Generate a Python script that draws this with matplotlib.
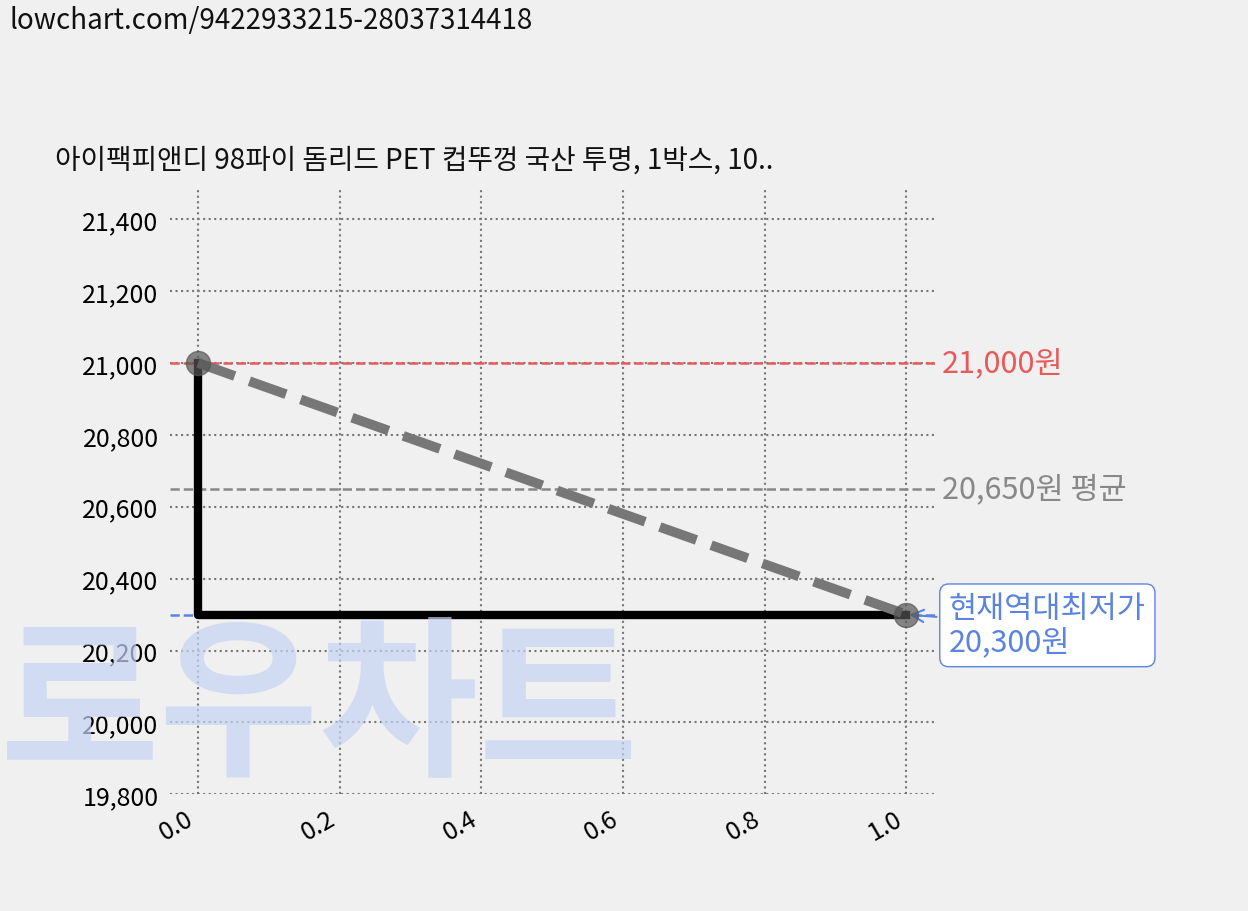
import matplotlib
matplotlib.use("Agg")
import matplotlib.pyplot as plt

plt.rcParams['font.family'] = ['Noto Sans CJK KR', 'DejaVu Sans']

x = [0.0, 1.0]
prices = [21000, 20300]
max_price = 21000
avg_price = 20650
min_price = 20300
title = "아이팩피앤디 98파이 돔리드 PET 컵뚜껑 국산 투명, 1박스, 10.."
url = "lowchart.com/9422933215-28037314418"

fig = plt.figure(figsize=(12.48, 9.12), dpi=100, facecolor='#f0f0f0')
fig.text(0.0, 0.165, "로우차트", fontsize=125, color='#c5d3f2', alpha=0.7,
         fontweight='black', zorder=0)
ax = fig.add_axes([0.136, 0.128, 0.613, 0.666])
ax.set_facecolor('none')
for s in ax.spines.values():
    s.set_visible(False)

fig.text(0.008, 0.968, url, fontsize=20, color='#111')
fig.text(0.044, 0.815, title, fontsize=20, color='#111')

ax.grid(True, linestyle=':', color='#777', linewidth=1.5)
ax.tick_params(length=0, labelsize=18, pad=8)

ax.plot([x[0], x[0], x[1]], [prices[0], prices[1], prices[1]], color='black', linewidth=6, zorder=3)
ax.plot(x, prices, color='#777', linestyle='--', linewidth=7, dashes=(4, 1.6), zorder=4)
ax.scatter(x, prices, s=300, color='#555', alpha=0.7, zorder=5)

ax.axhline(max_price, color='#e85a5a', linestyle='--', linewidth=1.8)
ax.axhline(avg_price, color='#888', linestyle='--', linewidth=1.8)
ax.axhline(min_price, color='#5b84e0', linestyle='--', linewidth=1.8)

ax.set_xlim(-0.04, 1.04)
ax.set_ylim(19800, 21490)
ax.set_yticks(range(19800, 21401, 200))
ax.set_yticklabels([f"{v:,}" for v in range(19800, 21401, 200)])
ax.set_xticks([0, 0.2, 0.4, 0.6, 0.8, 1.0])
ax.set_xticklabels(["0.0", "0.2", "0.4", "0.6", "0.8", "1.0"], rotation=30, ha='right')

ax.text(1.05, max_price, f"{max_price:,}원", color='#e85a5a', fontsize=22, va='center')
ax.text(1.05, avg_price, f"{avg_price:,}원 평균", color='#888', fontsize=22, va='center')
ax.annotate(f"현재역대최저가\n{min_price:,}원", xy=(1.0, min_price), xytext=(1.06, min_price - 30),
            color='#5b84e0', fontsize=22, va='center', linespacing=1.1,
            bbox=dict(boxstyle='round,pad=0.3', fc='white', ec='#5b84e0'),
            arrowprops=dict(arrowstyle='->', color='#5b84e0', lw=1.5))

fig.savefig('out.png', dpi=100, facecolor=fig.get_facecolor())
